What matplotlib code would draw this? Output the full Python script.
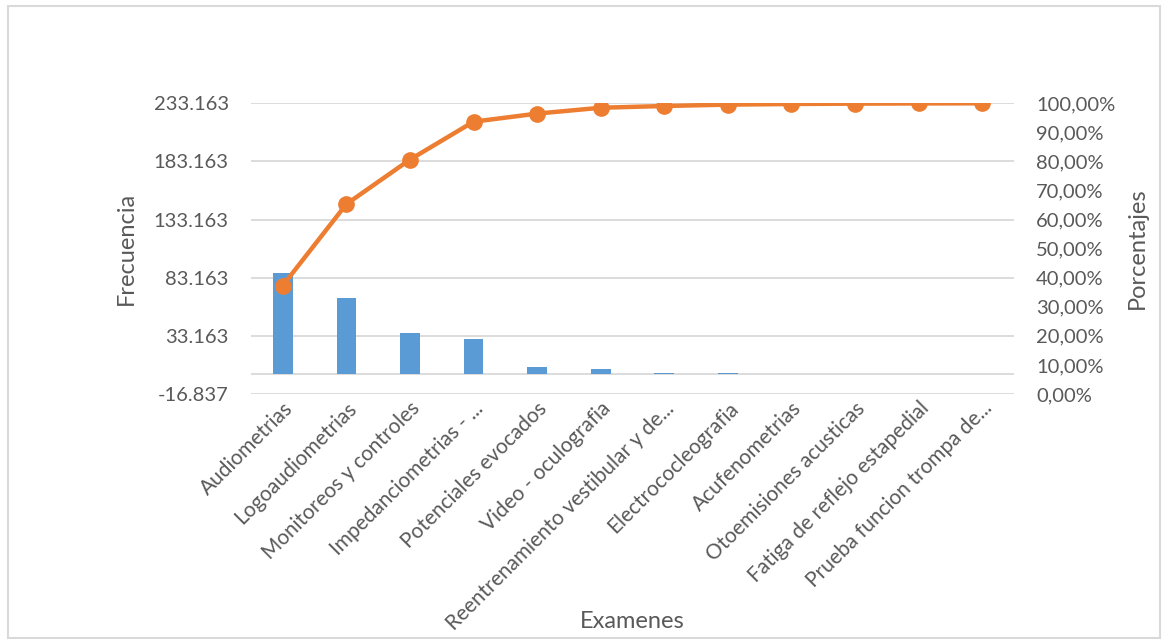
import matplotlib
matplotlib.use('Agg')
import matplotlib.pyplot as plt
from matplotlib.ticker import FuncFormatter, FixedLocator
from matplotlib.patches import Rectangle
import numpy as np

plt.rcParams['font.family'] = ['Lato', 'DejaVu Sans']

# Data
examenes = [
    'Audiometrias', 'Logoaudiometrias', 'Monitoreos y controles',
    'Impedanciometrias - ...', 'Potenciales evocados', 'Video - oculografia',
    'Reentrenamiento vestibular y de...', 'Electrococleografia',
    'Acufenometrias', 'Otoemisiones acusticas', 'Fatiga de reflejo estapedial',
    'Prueba funcion trompa de...',
]
frecuencia = [87000, 65300, 35700, 30400, 6500, 4700, 1400, 1100, 500, 300, 150, 113]

total = sum(frecuencia)
porcentaje_acum = np.cumsum(frecuencia) / total

C_BAR = '#5B9BD5'
C_LINE = '#ED7D31'
C_GRID = '#D9D9D9'
C_TEXT = '#595959'

fig = plt.figure(figsize=(11.62, 6.39), dpi=100)
ax = fig.add_axes([251 / 1162, 1 - 394 / 639, (1014 - 251) / 1162, (394 - 103.3) / 639])
ax2 = ax.twinx()

x = np.arange(len(examenes))
ax.bar(x, frecuencia, width=0.31, color=C_BAR, zorder=3)
ax.axhline(0, color=C_GRID, lw=1.3, zorder=2)

y_min = -16837
y_max = total
ax.set_ylim(y_min, y_max)
left_ticks = [y_min + 50000 * i for i in range(6)]
ax.yaxis.set_major_locator(FixedLocator(left_ticks))
ax.yaxis.set_major_formatter(FuncFormatter(lambda v, p: f'{v:,.0f}'.replace(',', '.')))
ax.grid(axis='y', color=C_GRID, lw=1.3, zorder=0)
ax.set_axisbelow(True)
ax.set_xlim(-0.5, len(examenes) - 0.5)

ax.set_xticks(x)
ax.set_xticklabels(examenes, rotation=45, ha='right', rotation_mode='anchor')

ax2.plot(x, porcentaje_acum, color=C_LINE, lw=3.2, marker='o', markersize=11, zorder=5)
ax2.set_ylim(0, 1)
ax2.set_yticks(np.arange(0, 1.01, 0.1))
ax2.yaxis.set_major_formatter(FuncFormatter(lambda v, p: f'{v * 100:.2f}%'.replace('.', ',')))

for a in (ax, ax2):
    for s in a.spines.values():
        s.set_visible(False)
    a.tick_params(axis='y', length=0, labelsize=14.5, colors=C_TEXT, pad=16)
ax.tick_params(axis='x', length=0, labelsize=15, colors=C_TEXT, pad=3)

ax.set_ylabel('Frecuencia', fontsize=17, color=C_TEXT, labelpad=12)
ax2.set_ylabel('Porcentajes', fontsize=17, color=C_TEXT, labelpad=8)
ax.set_xlabel('Examenes', fontsize=17, color=C_TEXT)
ax.xaxis.set_label_coords(0.5, (394 - 621) / 290.7)
ax.xaxis.label.set_va('center')

fig.patches.append(Rectangle((8 / 1162, 1 / 639), 1152 / 1162, 632 / 639,
                             transform=fig.transFigure, fill=False,
                             edgecolor=C_GRID, lw=1.5))

fig.savefig('out.png', dpi=100)
plt.close()
